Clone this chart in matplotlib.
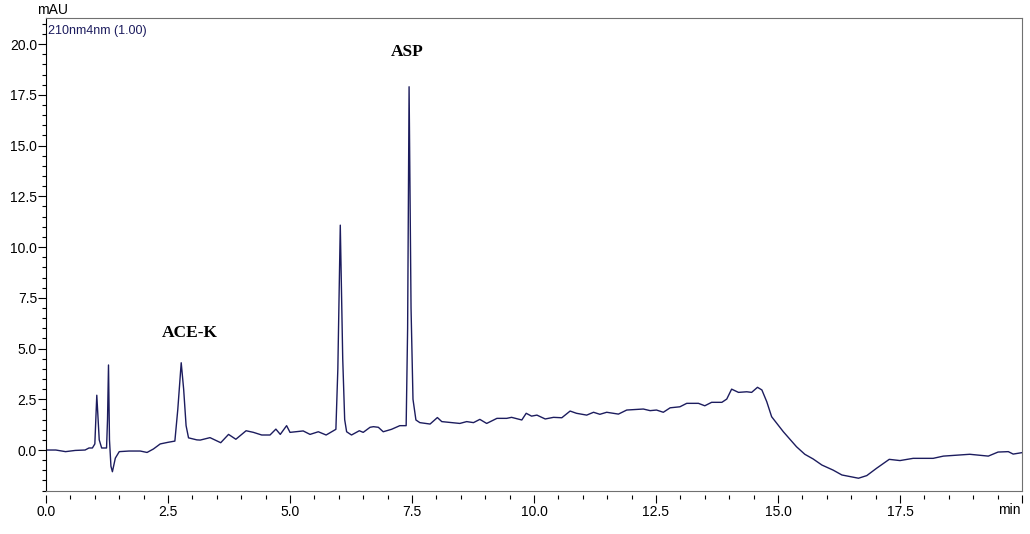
import matplotlib
matplotlib.use("Agg")
import matplotlib.pyplot as plt
from matplotlib.ticker import MultipleLocator

# retention time (min) and signal (mAU)
time_min = [0.00, 0.20, 0.40, 0.60, 0.80, 0.88, 0.95, 1.00, 1.04, 1.09, 1.14, 1.24, 1.26, 1.28,
            1.30, 1.33, 1.36, 1.42, 1.50, 1.70, 1.93, 2.07, 2.20, 2.34, 2.50, 2.64, 2.70, 2.77,
            2.82, 2.87, 2.92, 3.09, 3.16, 3.36, 3.58, 3.74, 3.89, 4.10, 4.25, 4.42, 4.59, 4.71,
            4.80, 4.93, 5.00, 5.27, 5.41, 5.58, 5.74, 5.94, 5.98, 6.03, 6.08, 6.12, 6.16, 6.26,
            6.42, 6.50, 6.64, 6.71, 6.81, 6.91, 7.08, 7.25, 7.38, 7.41, 7.44, 7.48, 7.52, 7.58,
            7.66, 7.87, 8.02, 8.11, 8.28, 8.48, 8.62, 8.76, 8.89, 9.03, 9.24, 9.44, 9.54, 9.75,
            9.84, 9.95, 10.06, 10.23, 10.40, 10.57, 10.74, 10.87, 11.08, 11.22, 11.35, 11.49,
            11.73, 11.90, 12.24, 12.38, 12.51, 12.65, 12.79, 12.99, 13.13, 13.37, 13.50, 13.64,
            13.85, 13.95, 14.05, 14.19, 14.36, 14.46, 14.58, 14.67, 14.77, 14.87, 15.11, 15.38,
            15.55, 15.72, 15.90, 16.13, 16.31, 16.48, 16.65, 16.82, 17.02, 17.28, 17.50, 17.77,
            18.18, 18.39, 18.93, 19.31, 19.51, 19.72, 19.82, 20.00]
signal_mau = [0.00, 0.00, -0.08, -0.02, 0.00, 0.10, 0.10, 0.30, 2.70, 0.50, 0.10, 0.10, 1.50, 4.19,
              0.50, -0.80, -1.07, -0.40, -0.08, -0.05, -0.05, -0.12, 0.05, 0.30, 0.38, 0.44, 2.00, 4.30,
              3.00, 1.20, 0.60, 0.50, 0.49, 0.61, 0.36, 0.77, 0.53, 0.95, 0.87, 0.74, 0.74, 1.03,
              0.77, 1.20, 0.87, 0.94, 0.77, 0.90, 0.74, 1.02, 4.00, 11.08, 4.50, 1.50, 0.90, 0.74,
              0.95, 0.87, 1.12, 1.15, 1.12, 0.90, 1.02, 1.20, 1.20, 6.00, 17.90, 7.00, 2.50, 1.48,
              1.35, 1.28, 1.60, 1.40, 1.36, 1.31, 1.40, 1.35, 1.51, 1.31, 1.56, 1.56, 1.61, 1.48,
              1.81, 1.67, 1.72, 1.53, 1.61, 1.59, 1.92, 1.81, 1.72, 1.86, 1.76, 1.86,
              1.77, 1.97, 2.02, 1.94, 1.97, 1.86, 2.08, 2.13, 2.30, 2.30, 2.18, 2.35,
              2.35, 2.51, 3.00, 2.84, 2.87, 2.84, 3.09, 2.96, 2.38, 1.64, 0.90, 0.16,
              -0.21, -0.44, -0.74, -0.99, -1.23, -1.31, -1.39, -1.26, -0.90, -0.46, -0.52, -0.41,
              -0.41, -0.30, -0.21, -0.30, -0.10, -0.08, -0.20, -0.13]

x_ticks = [0, 2.5, 5, 7.5, 10, 12.5, 15, 17.5, 20]
x_tick_labels = ["0.0", "2.5", "5.0", "7.5", "10.0", "12.5", "15.0", "17.5", ""]

peak_names = ["ACE-K", "ASP"]
peak_label_t = [2.95, 7.40]
peak_label_v = [5.76, 19.6]

plt.rcParams['font.family'] = ['Liberation Sans', 'DejaVu Sans']
navy = "#1c1c5e"
grey = "#707070"

fig = plt.figure(figsize=(10.30, 5.34), dpi=100)
ax = fig.add_axes([0.0447, 0.0805, 0.9475, 0.8855])

ax.plot(time_min, signal_mau, color=navy, lw=1.0)

ax.set_xlim(0, 20)
ax.set_ylim(-2.02, 21.28)

for name, t, v in zip(peak_names, peak_label_t, peak_label_v):
    ax.text(t, v, name, ha="center", va="center", fontsize=12.5, fontweight="bold",
            family=["Liberation Serif", "DejaVu Serif"])

# y axis
ax.yaxis.set_major_locator(MultipleLocator(2.5))
ax.yaxis.set_minor_locator(MultipleLocator(0.5))
ax.yaxis.set_major_formatter(plt.FormatStrFormatter("%.1f"))
ax.tick_params(axis="y", which="major", length=5.5, width=0.8, labelsize=10, pad=1)
ax.tick_params(axis="y", which="minor", length=3, width=0.8)

# x axis ticks sit a little below the frame
ax.tick_params(axis="x", which="both", bottom=False, labelbottom=False)
secx = ax.secondary_xaxis(-0.0085)
secx.spines["bottom"].set_visible(False)
secx.set_xticks(x_ticks, x_tick_labels)
secx.xaxis.set_minor_locator(MultipleLocator(0.5))
secx.tick_params(axis="x", which="major", length=6, width=0.8, labelsize=10, pad=1)
secx.tick_params(axis="x", which="minor", length=3, width=0.8)
ax.text(19.97, -0.040, "min", transform=ax.get_xaxis_transform(), ha="right", va="center",
        fontsize=10)

for side in ["top", "right", "bottom"]:
    ax.spines[side].set_color(grey)
ax.spines["left"].set_color("black")

fig.text(37 / 1030, 1 - 10 / 534, "mAU", ha="left", va="center", fontsize=10)
ax.text(0.002, 0.985, "210nm4nm (1.00)", transform=ax.transAxes, ha="left", va="top",
        fontsize=9, color=navy)

fig.savefig("out.png", dpi=100)
